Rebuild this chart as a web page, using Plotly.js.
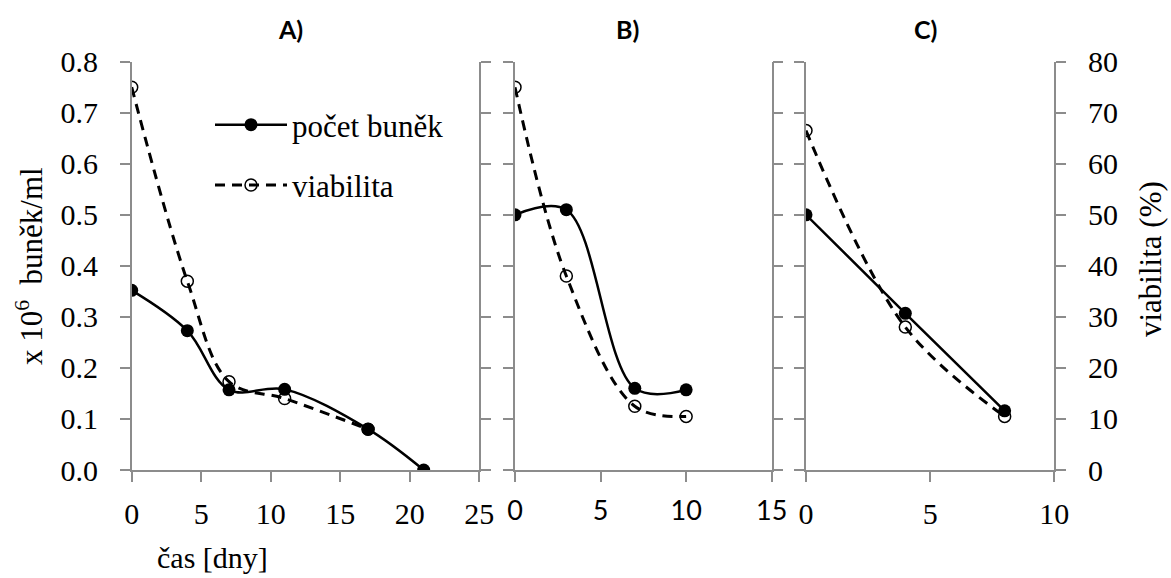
<!DOCTYPE html>
<html>
<head>
<meta charset="utf-8">
<script src="https://cdn.plot.ly/plotly-3.0.1.min.js"></script>
</head>
<body style="margin:0">
<div id="chart" style="width:1171px;height:578px;"></div>
<script>
// ---- data ----
const daysA = [0, 4, 7, 11, 17, 21];
const countA = [0.352, 0.273, 0.157, 0.158, 0.080, 0.0];
const daysViabA = [0, 4, 7, 11, 17];
const viabA = [75, 37, 17.3, 14, 8];

const daysB = [0, 3, 7, 10];
const countB = [0.50, 0.51, 0.16, 0.157];
const viabB = [75, 38, 12.5, 10.5];

const daysC = [0, 4, 8];
const countC = [0.50, 0.307, 0.116];
const viabC = [66.5, 28, 10.5];

const seriesNames = ['počet buněk', 'viabilita'];
const panelTitles = ['A)', 'B)', 'C)'];
const xTitle = 'čas [dny]';
const yLeftTitle = 'x 10<sup>6</sup>\u00a0 buněk/ml';
const yRightTitle = 'viabilita (%)';

// ---- styles ----
const SERIF = '"Liberation Serif", Tinos, "Times New Roman", "Noto Serif", "DejaVu Serif", serif';
const SANS = 'Lato, Carlito, Calibri, sans-serif';
const GREY = '#8c8c8c';
const W = 1171, H = 578;

const countStyle = {mode: 'lines+markers', line: {color: '#000', width: 2.5, shape: 'spline', smoothing: 1},
  marker: {symbol: 'circle', size: 13, color: '#000'}};
const viabStyle = {mode: 'lines+markers', line: {color: '#000', width: 3, dash: '10px,7px', shape: 'spline', smoothing: 1},
  marker: {symbol: 'circle-open', size: 12, color: '#000', line: {width: 1.5, color: '#000'}}};

function tr(style, x, y, xa, ya, name, show, grp) {
  return Object.assign({}, style, {x: x, y: y, xaxis: xa, yaxis: ya, name: name, showlegend: show,
    legendgroup: grp});
}

const data = [
  tr(countStyle, daysA, countA, 'x', 'y2', seriesNames[0], true, 'g1'),
  tr(viabStyle, daysViabA, viabA, 'x', 'y', seriesNames[1], true, 'g2'),
  tr(countStyle, daysB, countB, 'x2', 'y4', seriesNames[0], false, 'g1'),
  tr(viabStyle, daysB, viabB, 'x2', 'y3', seriesNames[1], false, 'g2'),
  tr(countStyle, daysC, countC, 'x3', 'y6', seriesNames[0], false, 'g1'),
  tr(viabStyle, daysC, viabC, 'x3', 'y5', seriesNames[1], false, 'g2')
];

const yDom = [1 - 470 / H, 1 - 61.7 / H];
const base = {showline: true, linecolor: GREY, linewidth: 1.5, ticks: 'outside', ticklen: 10, tickwidth: 1.5,
  tickcolor: GREY, showgrid: false, zeroline: false, fixedrange: true, automargin: false};

const serifTick = {family: SERIF, size: 30, color: '#000'};
const sansTick = {family: SANS, size: 27, color: '#000'};

function xa(d0, d1, max, font, anchor) {
  return Object.assign({}, base, {domain: [d0 / W, d1 / W], range: [0, max], tick0: 0, dtick: 5, anchor: anchor,
    tickfont: font, ticklabelstandoff: 6});
}
function yRight(anchor, labels) {
  return Object.assign({}, base, {domain: yDom, range: [0, 80], tick0: 0, dtick: 10, side: 'right', anchor: anchor,
    showticklabels: labels, tickfont: serifTick, ticklabelstandoff: 16});
}
function yLeft(anchor, over, labels) {
  return Object.assign({}, base, {range: [0, 0.8], tick0: 0, dtick: 0.1, tickformat: '.1f', side: 'left',
    anchor: anchor, overlaying: over, showticklabels: labels, tickfont: serifTick, ticklabelstandoff: 16});
}

const layout = {
  width: W, height: H,
  margin: {l: 0, r: 0, t: 0, b: 0, pad: 0},
  paper_bgcolor: '#fff', plot_bgcolor: 'rgba(0,0,0,0)',
  font: {family: SERIF, color: '#000'},
  showlegend: true,
  hovermode: false,
  legend: {x: 210 / W, y: 1 - 98 / H, xanchor: 'left', yanchor: 'top', bgcolor: 'rgba(0,0,0,0)',
    font: {family: SERIF, size: 31, color: '#000'}, itemwidth: 72, tracegroupgap: 17, traceorder: 'grouped'},
  xaxis: xa(131.7, 479.3, 25, serifTick, 'y'),
  xaxis2: xa(515, 771.7, 15, sansTick, 'y3'),
  xaxis3: xa(806, 1054.3, 10, serifTick, 'y5'),
  yaxis: yRight('x', false),
  yaxis2: yLeft('x', 'y', true),
  yaxis3: yRight('x2', false),
  yaxis4: yLeft('x2', 'y3', false),
  yaxis5: yRight('x3', true),
  yaxis6: yLeft('x3', 'y5', false),
  annotations: [
    {text: '<b>' + panelTitles[0] + '</b>', x: 290 / W, y: 1 - 29 / H},
    {text: '<b>' + panelTitles[1] + '</b>', x: 627 / W, y: 1 - 29 / H},
    {text: '<b>' + panelTitles[2] + '</b>', x: 925 / W, y: 1 - 29 / H}
  ].map(a => Object.assign(a, {xref: 'paper', yref: 'paper', xanchor: 'center', yanchor: 'middle', showarrow: false,
    font: {family: SANS, size: 25, color: '#000'}})).concat([
    {text: xTitle, x: 155 / W, y: 1 - 557 / H, xref: 'paper', yref: 'paper', xanchor: 'left', yanchor: 'middle',
      showarrow: false, font: {family: SERIF, size: 30, color: '#000'}},
    {text: yLeftTitle, x: 30 / W, y: 1 - 266 / H, xref: 'paper', yref: 'paper', xanchor: 'center', yanchor: 'middle',
      textangle: -90, showarrow: false, font: {family: SERIF, size: 31, color: '#000'}},
    {text: yRightTitle, x: 1150 / W, y: 1 - 259 / H, xref: 'paper', yref: 'paper', xanchor: 'center', yanchor: 'middle',
      textangle: -90, showarrow: false, font: {family: SERIF, size: 31, color: '#000'}}
  ])
};

const config = {displayModeBar: false};
Plotly.newPlot('chart', data, layout, config);
if (document.fonts && document.fonts.ready) {
  document.fonts.ready.then(() => Plotly.newPlot('chart', data, layout, config)).catch(() => {});
}
</script>
</body>
</html>
